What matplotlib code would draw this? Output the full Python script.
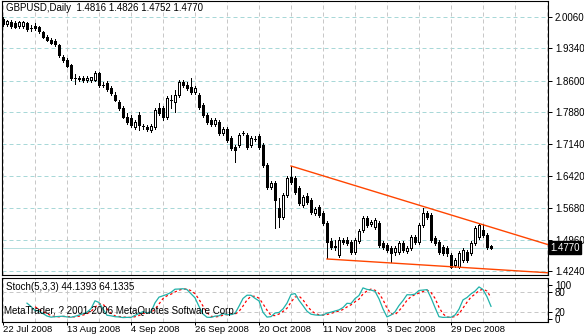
import numpy as np
import matplotlib
matplotlib.use('Agg')
import matplotlib.pyplot as plt
import matplotlib.transforms as mtransforms

# GBPUSD daily bars (bar 0 = 22 Jul 2008)
open_ = [2.0014, 1.9900, 1.9945, 1.9923, 1.9854, 1.9854, 1.9923, 1.9808, 1.9854, 1.9831,
         1.9716, 1.9602, 1.9533, 1.9510, 1.9418, 1.9143, 1.9075, 1.8960, 1.8662, 1.8662,
         1.8662, 1.8616, 1.8616, 1.8616, 1.8777, 1.8502, 1.8548, 1.8433, 1.8273, 1.8112,
         1.7975, 1.7769, 1.7746, 1.7539, 1.7814, 1.7562, 1.7539, 1.7471, 1.7539, 1.7975,
         1.7975, 1.7769, 1.8158, 1.8112, 1.8273, 1.8571, 1.8502, 1.8456, 1.8341, 1.8273,
         1.8044, 1.7814, 1.7700, 1.7608, 1.7654, 1.7402, 1.7494, 1.7287, 1.7081, 1.7127,
         1.7402, 1.7356, 1.7127, 1.7264, 1.7333, 1.7127, 1.6669, 1.6165, 1.6256, 1.5683,
         1.5477, 1.5981, 1.6394, 1.6371, 1.6142, 1.5752, 1.5958, 1.5867, 1.5569, 1.5706,
         1.5569, 1.5340, 1.4927, 1.4790, 1.4606, 1.4950, 1.4950, 1.4904, 1.4675, 1.4927,
         1.5179, 1.5454, 1.5317, 1.5248, 1.5340, 1.4881, 1.4835, 1.4767, 1.4675, 1.4675,
         1.4881, 1.4698, 1.4767, 1.5019, 1.4904, 1.5294, 1.5569, 1.5523, 1.4996, 1.4904,
         1.4790, 1.4767, 1.4606, 1.4377, 1.4331, 1.4492, 1.4675, 1.4652, 1.4881, 1.5019,
         1.5179, 1.5065, 1.4816]
high_ = [2.0060, 1.9991, 1.9991, 1.9968, 1.9968, 1.9968, 1.9945, 1.9877, 1.9923, 1.9854,
         1.9739, 1.9648, 1.9579, 1.9556, 1.9441, 1.9189, 1.9120, 1.8983, 1.8754, 1.8708,
         1.8708, 1.8708, 1.8685, 1.8823, 1.8800, 1.8571, 1.8593, 1.8479, 1.8341, 1.8158,
         1.8021, 1.7860, 1.7814, 1.7700, 1.7883, 1.7608, 1.7585, 1.7608, 1.7975, 1.8089,
         1.8021, 1.8250, 1.8273, 1.8387, 1.8616, 1.8616, 1.8571, 1.8662, 1.8479, 1.8318,
         1.8089, 1.7860, 1.7746, 1.7746, 1.7700, 1.7539, 1.7539, 1.7333, 1.7127, 1.7402,
         1.7448, 1.7402, 1.7333, 1.7333, 1.7379, 1.7173, 1.6715, 1.6302, 1.6302, 1.5913,
         1.6027, 1.6417, 1.6646, 1.6417, 1.6188, 1.5981, 1.6027, 1.5913, 1.5706, 1.5752,
         1.5615, 1.5385, 1.4996, 1.4950, 1.5019, 1.4996, 1.5019, 1.4950, 1.4996, 1.5202,
         1.5500, 1.5500, 1.5408, 1.5454, 1.5385, 1.4927, 1.4881, 1.4812, 1.4812, 1.4927,
         1.4927, 1.4812, 1.5065, 1.5065, 1.5340, 1.5683, 1.5615, 1.5569, 1.5042, 1.4950,
         1.4835, 1.4812, 1.4652, 1.4537, 1.4698, 1.4767, 1.4721, 1.4927, 1.5271, 1.5340,
         1.5317, 1.5110, 1.4826]
low_ = [1.9854, 1.9854, 1.9808, 1.9808, 1.9808, 1.9808, 1.9739, 1.9739, 1.9762, 1.9693,
        1.9579, 1.9510, 1.9441, 1.9395, 1.9143, 1.9029, 1.8914, 1.8616, 1.8525, 1.8593,
        1.8571, 1.8571, 1.8571, 1.8593, 1.8456, 1.8456, 1.8364, 1.8273, 1.8135, 1.7929,
        1.7746, 1.7608, 1.7539, 1.7494, 1.7471, 1.7494, 1.7448, 1.7425, 1.7494, 1.7814,
        1.7700, 1.7723, 1.7975, 1.7883, 1.8227, 1.8456, 1.8387, 1.8296, 1.8296, 1.7952,
        1.7769, 1.7608, 1.7562, 1.7562, 1.7356, 1.7356, 1.7196, 1.7012, 1.6737, 1.7081,
        1.7356, 1.7035, 1.7081, 1.7219, 1.7035, 1.6623, 1.6119, 1.6119, 1.5225, 1.5248,
        1.5431, 1.5935, 1.6233, 1.6004, 1.5752, 1.5706, 1.5775, 1.5546, 1.5523, 1.5477,
        1.5294, 1.4537, 1.4744, 1.4721, 1.4560, 1.4858, 1.4835, 1.4629, 1.4629, 1.4881,
        1.5133, 1.5248, 1.5271, 1.5202, 1.4790, 1.4744, 1.4675, 1.4446, 1.4606, 1.4629,
        1.4675, 1.4652, 1.4721, 1.4858, 1.4858, 1.5248, 1.5431, 1.4904, 1.4835, 1.4629,
        1.4606, 1.4583, 1.4308, 1.4331, 1.4308, 1.4446, 1.4446, 1.4606, 1.4835, 1.4973,
        1.5019, 1.4744, 1.4752]
close_ = [1.9900, 1.9968, 1.9854, 1.9831, 1.9945, 1.9945, 1.9785, 1.9800, 1.9808, 1.9739,
          1.9602, 1.9533, 1.9464, 1.9441, 1.9189, 1.9075, 1.8937, 1.8662, 1.8655, 1.8639,
          1.8616, 1.8662, 1.8685, 1.8777, 1.8502, 1.8495, 1.8410, 1.8318, 1.8158, 1.7975,
          1.7769, 1.7654, 1.7585, 1.7654, 1.7585, 1.7555, 1.7494, 1.7562, 1.7929, 1.7860,
          1.7769, 1.8204, 1.8150, 1.8273, 1.8571, 1.8502, 1.8433, 1.8341, 1.8433, 1.7998,
          1.7814, 1.7654, 1.7608, 1.7700, 1.7402, 1.7494, 1.7242, 1.7058, 1.7012, 1.7356,
          1.7395, 1.7081, 1.7287, 1.7258, 1.7081, 1.6669, 1.6165, 1.6256, 1.5867, 1.5477,
          1.5981, 1.6371, 1.6279, 1.6050, 1.5798, 1.5935, 1.5821, 1.5592, 1.5660, 1.5523,
          1.5340, 1.4904, 1.4790, 1.4812, 1.4950, 1.4904, 1.4881, 1.4675, 1.4950, 1.5156,
          1.5454, 1.5294, 1.5362, 1.5408, 1.4835, 1.4790, 1.4721, 1.4652, 1.4767, 1.4881,
          1.4721, 1.4767, 1.5019, 1.4904, 1.5294, 1.5569, 1.5477, 1.4950, 1.4881, 1.4675,
          1.4652, 1.4652, 1.4331, 1.4492, 1.4652, 1.4721, 1.4492, 1.4881, 1.5225, 1.5294,
          1.5065, 1.4790, 1.4770]

date_idx = [0, 16, 32, 48, 64, 80, 96, 112]
date_labels = ['22 Jul 2008', '13 Aug 2008', '4 Sep 2008', '26 Sep 2008',
               '20 Oct 2008', '11 Nov 2008', '3 Dec 2008', '29 Dec 2008']
price_ticks = [2.0060, 1.9340, 1.8600, 1.7880, 1.7140, 1.6420, 1.5680, 1.4960, 1.4240]
stoch_ticks = [0, 20, 80, 100]

# trend lines: (bar, price) anchors, drawn as rays to the right
upper_line = [(72, 1.6646), (119, 1.5328)]
lower_line = [(81, 1.4515), (113, 1.4332)]

title = 'GBPUSD,Daily  1.4816 1.4826 1.4752 1.4770'
stoch_title = 'Stoch(5,3,3) 44.1393 64.1335'
copyright_txt = 'MetaTrader, ? 2001-2006 MetaQuotes Software Corp.'

plt.rcParams['font.family'] = ['Liberation Sans', 'DejaVu Sans']
plt.rcParams['font.size'] = 7

W, H = 584, 336
fig = plt.figure(figsize=(W / 100, H / 100), dpi=100)


def box(x0, y0, x1, y1):
    return [x0 / W, 1 - y1 / H, (x1 - x0) / W, (y1 - y0) / H]


ax = fig.add_axes(box(2, 1, 548, 275))
ax2 = fig.add_axes(box(2, 278, 548, 322))

o = np.array(open_); h = np.array(high_); l = np.array(low_); c = np.array(close_)
n = len(c)
x = np.arange(n)
xlim = (-0.25, 136.25)
LW = 0.72  # one pixel

# ---- main price panel
ax.set_xlim(*xlim)
ax.set_ylim(1.4148, 2.0427)
for p in price_ticks:
    ax.axhline(p, color='#a8d8d8', lw=LW, ls=(0, (4, 3)), zorder=0)
for gx in range(0, 137, 8):
    ax.axvline(gx, color='#c8c8c8', lw=LW, ls=(0, (4, 3)), zorder=0)
ax.axhline(c[-1], color='#b8e0e0', lw=LW, zorder=1)

ax.vlines(x, l, h, color='black', lw=LW, antialiased=False, zorder=2)
up = c >= o
body = np.maximum(np.abs(c - o), 0.0004)
ax.bar(x, body, bottom=np.minimum(o, c), width=0.6,
       color=np.where(up, 'white', 'black'), edgecolor='black', lw=LW,
       antialiased=False, zorder=3)

for (x0, y0), (x1, y1) in [upper_line, lower_line]:
    slope = (y1 - y0) / (x1 - x0)
    ax.plot([x0, xlim[1]], [y0, y0 + slope * (xlim[1] - x0)],
            color='#ff4500', lw=1.0, zorder=4)

ax.set_xticks([])
ax.yaxis.tick_right()
ax.set_yticks(price_ticks)
ax.set_yticklabels(['%.4f' % p for p in price_ticks])
ax.tick_params(axis='y', direction='out', length=3, width=LW, pad=2)
for s in ax.spines.values():
    s.set_color('black'); s.set_linewidth(0.8)

trans = mtransforms.blended_transform_factory(ax.transAxes, ax.transData)
ax.text(1.004, c[-1], '%.4f' % c[-1], transform=trans, color='white',
        va='center', ha='left', clip_on=False, zorder=6,
        bbox=dict(boxstyle='square,pad=0.15', fc='black', ec='black'))

fig.text(6 / W, 1 - 8 / H, title, va='center', ha='left')

# ---- stochastic panel, Stoch(5,3,3)
num = np.full(n, np.nan); den = np.full(n, np.nan)
for t in range(4, n):
    ll = l[t - 4:t + 1].min(); hh = h[t - 4:t + 1].max()
    num[t] = c[t] - ll; den[t] = hh - ll
k = np.full(n, np.nan)
for t in range(6, n):
    k[t] = 100 * num[t - 2:t + 1].sum() / den[t - 2:t + 1].sum()
d = np.full(n, np.nan)
for t in range(8, n):
    d[t] = k[t - 2:t + 1].mean()

ax2.set_xlim(*xlim)
ax2.set_ylim(-8.8, 120.6)
for lv in (20, 80):
    ax2.axhline(lv, color='#c8c8c8', lw=LW, ls=(0, (4, 3)), zorder=0)
for gx in range(0, 137, 8):
    ax2.axvline(gx, color='#c8c8c8', lw=LW, ls=(0, (4, 3)), zorder=0)
ax2.plot(x, k, color='#20b2aa', lw=0.9, zorder=3)
ax2.plot(x, d, color='red', lw=0.9, ls=(0, (2, 2)), zorder=2)

ax2.yaxis.tick_right()
ax2.set_yticks(stoch_ticks)
ax2.set_yticklabels([str(v) for v in stoch_ticks])
ax2.tick_params(axis='y', direction='out', length=3, width=LW, pad=2)
ax2.set_xticks(date_idx)
ax2.set_xticklabels(date_labels, fontsize=6.8)
for lab in ax2.get_xticklabels():
    lab.set_horizontalalignment('left')
ax2.tick_params(axis='x', direction='out', length=2, width=LW, pad=0.5)
for s in ax2.spines.values():
    s.set_color('black'); s.set_linewidth(0.8)

fig.text(6 / W, 1 - 287 / H, stoch_title, va='center', ha='left')
fig.text(4 / W, 1 - 311 / H, copyright_txt, va='center', ha='left')

fig.savefig('out.png', dpi=100, facecolor='white')
